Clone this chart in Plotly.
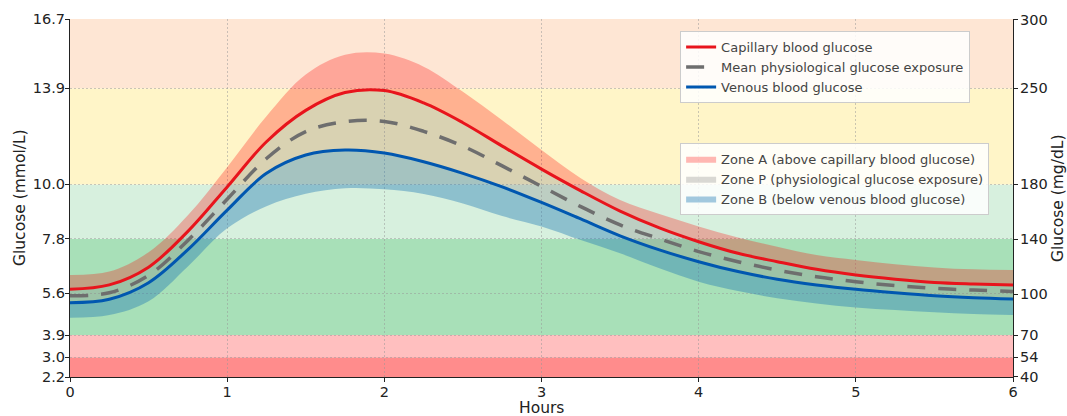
import plotly.graph_objects as go

# ---- data ----
hours = [0, 0.25, 0.5, 0.75, 1.0, 1.25, 1.5, 1.75, 2.0, 2.25, 2.5, 2.75, 3.0,
         3.25, 3.5, 3.75, 4.0, 4.25, 4.5, 4.75, 5.0, 5.25, 5.5, 5.75, 6.0]
capillary = [5.75, 5.93, 6.65, 8.10, 9.90, 11.73, 13.00, 13.72, 13.80, 13.30, 12.50, 11.55, 10.62,
             9.74, 8.92, 8.24, 7.68, 7.21, 6.87, 6.56, 6.33, 6.16, 6.03, 5.97, 5.93]
mean_exposure = [5.49, 5.61, 6.32, 7.73, 9.40, 11.05, 12.14, 12.54, 12.55, 12.15, 11.55, 10.75, 9.92,
                 9.10, 8.36, 7.80, 7.28, 6.87, 6.53, 6.26, 6.06, 5.90, 5.79, 5.72, 5.66]
venous = [5.21, 5.35, 6.02, 7.36, 8.96, 10.45, 11.19, 11.39, 11.27, 10.92, 10.45, 9.90, 9.27,
          8.60, 7.92, 7.35, 6.87, 6.47, 6.16, 5.93, 5.75, 5.61, 5.49, 5.41, 5.36]
zone_a_upper = [6.33, 6.47, 7.25, 8.75, 10.70, 12.76, 14.45, 15.25, 15.30, 14.77, 13.75, 12.60, 11.39,
                10.25, 9.37, 8.80, 8.30, 7.85, 7.48, 7.14, 6.94, 6.77, 6.64, 6.56, 6.53]
zone_b_lower = [4.60, 4.71, 5.27, 6.68, 8.22, 9.12, 9.62, 9.84, 9.80, 9.61, 9.23, 8.72, 8.30,
                7.75, 7.21, 6.60, 6.06, 5.68, 5.39, 5.18, 5.02, 4.91, 4.82, 4.75, 4.71]

band_edges = [2.2, 3.0, 3.9, 7.8, 10.0, 13.9, 16.7]
band_colors = ["#ff8c8c", "#ffbfbf", "#a8e0b8", "#d7f0de", "#fff5c8", "#fee6d4"]

mmol_ticks = [2.2, 3.0, 3.9, 5.6, 7.8, 10.0, 13.9, 16.7]
mmol_labels = ["2.2", "3.0", "3.9", "5.6", "7.8", "10.0", "13.9", "16.7"]
mgdl_ticks = [40, 54, 70, 100, 140, 180, 250, 300]
hour_ticks = [0, 1, 2, 3, 4, 5, 6]
MGDL_PER_MMOL = 18.0

fig = go.Figure()

# background zones
for lo, hi, c in zip(band_edges[:-1], band_edges[1:], band_colors):
    fig.add_shape(type="rect", xref="paper", yref="y", x0=0, x1=1, y0=lo, y1=hi,
                  fillcolor=c, line_width=0, layer="below")

# Zone A
fig.add_trace(go.Scatter(x=hours, y=zone_a_upper, mode="lines", line=dict(width=0, shape="spline"),
                         showlegend=False, hoverinfo="skip"))
fig.add_trace(go.Scatter(x=hours, y=capillary, mode="lines", line=dict(width=0, shape="spline"),
                         fill="tonexty", fillcolor="rgba(255,0,0,0.28)",
                         name="Zone A (above capillary blood glucose)", legend="legend2"))
# Zone P
fig.add_trace(go.Scatter(x=hours, y=capillary, mode="lines", line=dict(width=0, shape="spline"),
                         showlegend=False, hoverinfo="skip"))
fig.add_trace(go.Scatter(x=hours, y=venous, mode="lines", line=dict(width=0, shape="spline"),
                         fill="tonexty", fillcolor="rgba(128,128,128,0.3)",
                         name="Zone P (physiological glucose exposure)", legend="legend2"))
# Zone B
fig.add_trace(go.Scatter(x=hours, y=venous, mode="lines", line=dict(width=0, shape="spline"),
                         showlegend=False, hoverinfo="skip"))
fig.add_trace(go.Scatter(x=hours, y=zone_b_lower, mode="lines", line=dict(width=0, shape="spline"),
                         fill="tonexty", fillcolor="rgba(31,119,180,0.4)",
                         name="Zone B (below venous blood glucose)", legend="legend2"))

# Lines
fig.add_trace(go.Scatter(x=hours, y=capillary, mode="lines",
                         line=dict(color="#e8141c", width=3, shape="spline"),
                         name="Capillary blood glucose", legend="legend"))
fig.add_trace(go.Scatter(x=hours, y=mean_exposure, mode="lines",
                         line=dict(color="#6e6e6e", width=3.5, shape="spline", dash="18px,13px"),
                         name="Mean physiological glucose exposure", legend="legend"))
fig.add_trace(go.Scatter(x=hours, y=venous, mode="lines",
                         line=dict(color="#0057b0", width=3, shape="spline"),
                         name="Venous blood glucose", legend="legend"))

# mg/dL axis carrier (same mean curve expressed in mg/dL, not drawn)
fig.add_trace(go.Scatter(x=hours, y=[v * MGDL_PER_MMOL for v in mean_exposure], yaxis="y2",
                         mode="lines", line=dict(width=0), showlegend=False, hoverinfo="skip"))

font_family = "DejaVu Sans"
tick_font = dict(family=font_family, size=14.5, color="#222222")
title_font = dict(family=font_family, size=15.5, color="#222222")
legend_font = dict(family=font_family, size=13, color="#444444")
grid_color = "rgba(150,150,150,0.5)"

# axis titles
fig.add_annotation(text="Hours", xref="paper", yref="paper", x=0.5, y=-0.0866,
                   xanchor="center", yanchor="middle", showarrow=False, font=title_font)
fig.add_annotation(text="Glucose (mmol/L)", xref="paper", yref="paper", x=-0.053, y=0.5,
                   xanchor="center", yanchor="middle", textangle=-90, showarrow=False, font=title_font)
fig.add_annotation(text="Glucose (mg/dL)", xref="paper", yref="paper", x=1.0477, y=0.5,
                   xanchor="center", yanchor="middle", textangle=-90, showarrow=False, font=title_font)

fig.update_layout(
    width=1067, height=416,
    margin=dict(l=70, r=54, t=19, b=39),
    paper_bgcolor="white", plot_bgcolor="white",
    font=dict(family=font_family),
    xaxis=dict(range=[0, 6], tickvals=hour_ticks, ticks="outside", ticklen=4, tickcolor="#222",
               showline=True, linecolor="#222", linewidth=1.2, automargin=False,
               showgrid=True, gridcolor=grid_color, griddash="2px,2px", gridwidth=1,
               zeroline=False, tickfont=tick_font, ticklabelstandoff=-3),
    yaxis=dict(range=[2.2, 16.7], tickvals=mmol_ticks, ticktext=mmol_labels, ticks="outside",
               ticklen=4, tickcolor="#222", showline=True, linecolor="#222", linewidth=1.2,
               automargin=False,
               showgrid=True, gridcolor=grid_color, griddash="2px,2px", gridwidth=1,
               zeroline=False, tickfont=tick_font, ticklabelstandoff=-3),
    yaxis2=dict(range=[2.2 * MGDL_PER_MMOL, 16.7 * MGDL_PER_MMOL], tickvals=mgdl_ticks,
                overlaying="y", side="right", ticks="outside", ticklen=4, tickcolor="#222",
                showline=True, linecolor="#222", linewidth=1.2, showgrid=False, zeroline=False,
                automargin=False, tickfont=tick_font, ticklabelstandoff=-1),
    legend=dict(x=0.647, y=0.966, xanchor="left", yanchor="top", bgcolor="rgba(255,255,255,0.85)",
                bordercolor="#cccccc", borderwidth=1, font=legend_font, itemwidth=30,
                tracegroupgap=0, traceorder="normal"),
    legend2=dict(x=0.647, y=0.654, xanchor="left", yanchor="top", bgcolor="rgba(255,255,255,0.85)",
                 bordercolor="#cccccc", borderwidth=1, font=legend_font, itemwidth=30,
                 tracegroupgap=0, traceorder="normal"),
    showlegend=True,
)

fig.write_html("out.html", config={"displayModeBar": False},
               post_script="document.body.style.margin='0';document.body.style.overflow='hidden';")
